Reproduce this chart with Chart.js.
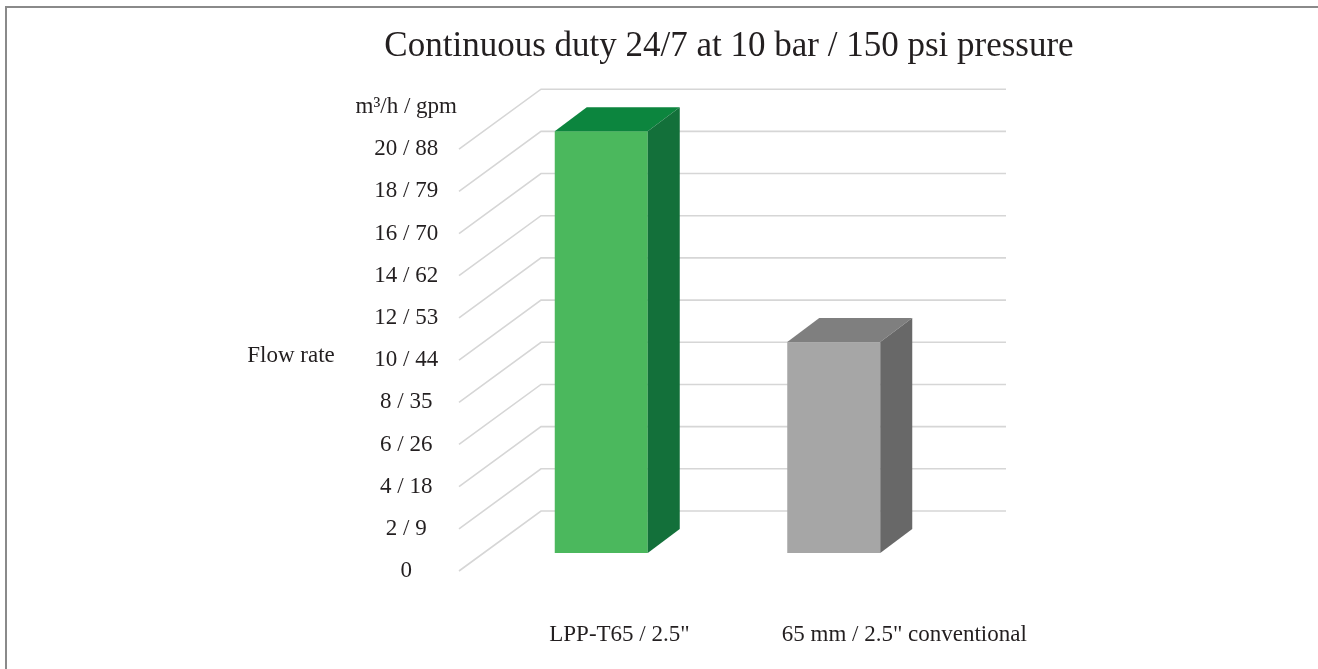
<!DOCTYPE html>
<html>
<head>
<meta charset="utf-8">
<script src="https://cdn.jsdelivr.net/npm/chart.js@4/dist/chart.umd.min.js"></script>
<style>
  html, body { margin: 0; padding: 0; background: #fff; }
  #wrap { position: relative; width: 1318px; height: 669px; overflow: hidden; }
  #frame { position: absolute; left: 5px; top: 6px; right: 0; bottom: -10px;
           border-top: 2px solid #8a8a8a; border-left: 2px solid #8a8a8a; pointer-events: none; }
</style>
</head>
<body>
<div id="wrap">
  <canvas id="flowChart" width="1318" height="669"></canvas>
  <div id="frame"></div>
</div>
<script>
// Datos del grafico
var categorias = ['LPP-T65 / 2.5"', '65 mm / 2.5" conventional'];
var caudal = [20, 10];   // m3/h
var etiquetasY = ['0', '2 / 9', '4 / 18', '6 / 26', '8 / 35', '10 / 44', '12 / 53',
                  '14 / 62', '16 / 70', '18 / 79', '20 / 88', 'm³/h / gpm'];
var titulo = 'Continuous duty 24/7 at 10 bar / 150 psi pressure';
var tituloEje = 'Flow rate';

// Colores de las caras
var colorFrente = ['#4bb85d', '#a6a6a6'];
var colorArriba = ['#0c853e', '#7f7f7f'];
var colorLado = ['#13703a', '#686868'];
var colorTexto = '#231f20';
var fuente = '"Liberation Serif", "DejaVu Serif", serif';

// Profundidad del efecto 3D (px por unidad de profundidad)
var DX = 80, DY = -60;
var Z_FRENTE = 0.3, Z_FONDO = 0.7;

var plugin3D = {
    id: 'barras3d',
    beforeDatasetsDraw: function(chart) {
        var ctx = chart.ctx;
        var area = chart.chartArea;
        var y = chart.scales.y;
        ctx.save();
        // rejilla con pared lateral
        ctx.strokeStyle = '#d6d6d6';
        ctx.lineWidth = 1.6;
        y.ticks.forEach(function(t) {
            if (t.value > 20) return;
            var py = y.getPixelForValue(t.value);
            ctx.beginPath();
            ctx.moveTo(area.left - 2, py);
            ctx.lineTo(area.left + DX, py + DY);
            ctx.lineTo(area.right + DX, py + DY);
            ctx.stroke();
        });
        // barras
        var meta = chart.getDatasetMeta(0);
        meta.data.forEach(function(bar, i) {
            var p = bar.getProps(['x', 'y', 'base', 'width'], true);
            var ox = DX * Z_FRENTE, oy = DY * Z_FRENTE;
            var dx = DX * (Z_FONDO - Z_FRENTE), dy = DY * (Z_FONDO - Z_FRENTE);
            var xl = p.x - p.width / 2 + ox, xr = p.x + p.width / 2 + ox;
            var yt = p.y + oy, yb = p.base + oy;
            // frente
            ctx.fillStyle = colorFrente[i];
            ctx.fillRect(xl, yt, xr - xl, yb - yt);
            // arriba
            ctx.fillStyle = colorArriba[i];
            ctx.beginPath();
            ctx.moveTo(xl, yt);
            ctx.lineTo(xr, yt);
            ctx.lineTo(xr + dx, yt + dy);
            ctx.lineTo(xl + dx, yt + dy);
            ctx.closePath();
            ctx.fill();
            // lado
            ctx.fillStyle = colorLado[i];
            ctx.beginPath();
            ctx.moveTo(xr, yt);
            ctx.lineTo(xr + dx, yt + dy);
            ctx.lineTo(xr + dx, yb + dy);
            ctx.lineTo(xr, yb);
            ctx.closePath();
            ctx.fill();
        });
        ctx.restore();
        return false;
    },
    afterDraw: function(chart) {
        var ctx = chart.ctx;
        ctx.save();
        ctx.fillStyle = colorTexto;
        ctx.textAlign = 'center';
        ctx.textBaseline = 'middle';
        ctx.font = '35px ' + fuente;
        ctx.fillText(titulo, 729, 47);
        ctx.font = '23px ' + fuente;
        ctx.fillText(tituloEje, 291, 356);
        ctx.restore();
    }
};

var ctx = document.getElementById('flowChart').getContext('2d');
var flowChart = new Chart(ctx, {
    type: 'bar',
    data: {
        labels: categorias,
        datasets: [{
            label: tituloEje,
            data: caudal,
            backgroundColor: colorFrente,
            barPercentage: 0.4,
            categoryPercentage: 1
        }]
    },
    options: {
        responsive: false,
        animation: false,
        layout: { padding: { left: 331, right: 392, top: 107, bottom: 0 } },
        plugins: {
            legend: { display: false },
            tooltip: { enabled: false }
        },
        scales: {
            x: {
                grid: { display: false },
                border: { display: false },
                ticks: {
                    color: colorTexto,
                    font: { family: fuente, size: 23 },
                    align: 'start',
                    labelOffset: -28,
                    padding: 42,
                    maxRotation: 0,
                    autoSkip: false
                },
                afterFit: function(scale) { scale.height = 98; }
            },
            y: {
                min: 0,
                max: 22,
                grid: { display: false },
                border: { display: false },
                ticks: {
                    stepSize: 2,
                    color: colorTexto,
                    font: { family: fuente, size: 23 },
                    crossAlign: 'center',
                    padding: -4,
                    callback: function(value) { return etiquetasY[value / 2]; }
                },
                afterFit: function(scale) { scale.width = 130; }
            }
        }
    },
    plugins: [plugin3D]
});
</script>
</body>
</html>
